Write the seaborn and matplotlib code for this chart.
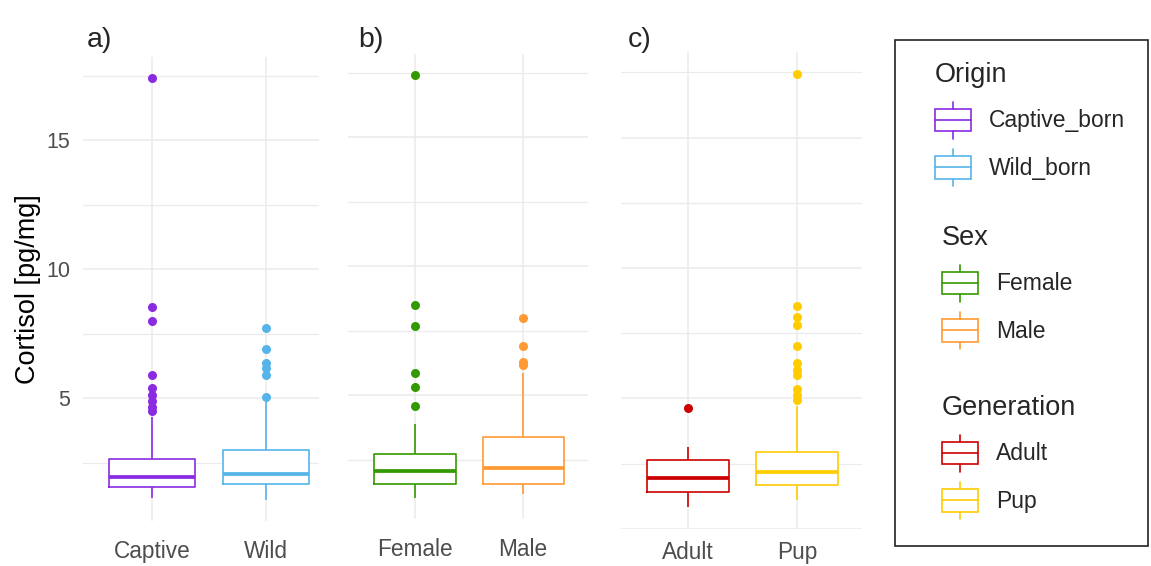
import pandas as pd
import seaborn as sns
import matplotlib.pyplot as plt
from matplotlib.lines import Line2D
from matplotlib.patches import Rectangle
from matplotlib.legend_handler import HandlerBase
from matplotlib.ticker import MultipleLocator

# values (box summaries + outlying points)
origin = ["Captive", "Wild"]
origin_names = ["Captive_born", "Wild_born"]
origin_colors = ["#8A2BE2", "#56B4E9"]
origin_low = [1.14, 1.05]
origin_q1 = [1.54, 1.65]
origin_median = [1.93, 2.05]
origin_q3 = [2.64, 2.98]
origin_high = [4.26, 4.90]
origin_out = [[4.50, 4.65, 4.90, 5.10, 5.39, 5.89, 7.98, 8.53, 17.40],
              [5.02, 5.89, 6.16, 6.36, 6.90, 7.70]]

sex = ["Female", "Male"]
sex_colors = ["#339900", "#FF9933"]
sex_low = [1.03, 1.18]
sex_q1 = [1.57, 1.57]
sex_median = [2.08, 2.19]
sex_q3 = [2.73, 3.39]
sex_high = [3.90, 5.87]
sex_out = [[4.60, 5.33, 5.87, 7.70, 8.48, 17.40],
           [6.18, 6.30, 6.90, 8.00]]

generation = ["Adult", "Pup"]
generation_colors = ["#CC0000", "#FFCC00"]
generation_low = [0.82, 1.09]
generation_q1 = [1.42, 1.66]
generation_median = [1.96, 2.19]
generation_q3 = [2.64, 2.94]
generation_high = [3.13, 4.72]
generation_out = [[4.63],
                  [4.95, 5.12, 5.36, 5.90, 6.10, 6.34, 6.99, 7.81, 8.10, 8.53, 17.45]]


def panel_frame(groups, low, q1, median, q3, high, outliers, reps=20):
    # raw values that reproduce the summaries for sns.boxplot
    rows = []
    for g, lo, a, m, b, hi, out in zip(groups, low, q1, median, q3, high, outliers):
        vals = [lo] + [a] * reps + [m] * reps + [b] * reps + [hi] + list(out)
        rows += [(g, v) for v in vals]
    return pd.DataFrame(rows, columns=["group", "cortisol"])


class BoxGlyph(HandlerBase):
    def create_artists(self, legend, orig_handle, xdescent, ydescent,
                       width, height, fontsize, trans):
        c = orig_handle.get_color()
        x0, y0 = -xdescent, -ydescent
        xm = x0 + width / 2
        box = Rectangle((x0, y0 + 0.2 * height), width, 0.6 * height, fill=False,
                        edgecolor=c, lw=1.2, transform=trans)
        mid = Line2D([x0, x0 + width], [y0 + 0.5 * height] * 2, color=c, lw=1.2, transform=trans)
        top = Line2D([xm, xm], [y0 + 0.8 * height, y0 + height], color=c, lw=1.2, transform=trans)
        bot = Line2D([xm, xm], [y0, y0 + 0.2 * height], color=c, lw=1.2, transform=trans)
        return [box, mid, top, bot]


sns.set_style("white")
plt.rcParams["font.family"] = ["Liberation Sans", "DejaVu Sans"]

W, H = 1151, 566
fig = plt.figure(figsize=(W / 100, H / 100), dpi=100)


def px_axes(left, right, top, bottom):
    return fig.add_axes([left / W, 1 - bottom / H, (right - left) / W, (bottom - top) / H])


def draw_panel(ax, df, groups, colors, xlim, pad):
    ax.set_axisbelow(True)
    sns.boxplot(data=df, x="group", y="cortisol", order=groups, color="white",
                fill=True, width=0.75, linewidth=0, showfliers=False, showcaps=False, ax=ax)
    sns.boxplot(data=df, x="group", y="cortisol", order=groups, hue="group",
                hue_order=groups, palette=colors, saturation=1, fill=False,
                width=0.75, linewidth=1.2, fliersize=6.5, legend=False, showcaps=False,
                medianprops={"linewidth": 2.7},
                flierprops={"marker": "o", "markeredgewidth": 0}, ax=ax)
    for line in ax.lines:
        if line.get_marker() == "o":
            line.set_markerfacecolor(line.get_markeredgecolor())
    lo, hi = df["cortisol"].min(), df["cortisol"].max()
    ax.set_ylim(lo - 0.05 * (hi - lo), hi + 0.05 * (hi - lo))
    ax.set_xlim(*xlim)
    ax.yaxis.set_major_locator(MultipleLocator(5))
    ax.yaxis.set_minor_locator(MultipleLocator(2.5))
    ax.grid(which="major", color="#EBEBEB", linewidth=1.1)
    ax.grid(which="minor", axis="y", color="#EBEBEB", linewidth=0.9)
    ax.tick_params(which="both", length=0, labelsize=16.3, labelcolor="#4D4D4D")
    ax.tick_params(axis="x", pad=pad)
    ax.tick_params(axis="y", pad=9, labelsize=15.5)
    for s in ax.spines.values():
        s.set_visible(False)
    ax.set_xlabel("")
    ax.set_ylabel("")


df_a = panel_frame(origin, origin_low, origin_q1, origin_median, origin_q3, origin_high, origin_out)
df_b = panel_frame(sex, sex_low, sex_q1, sex_median, sex_q3, sex_high, sex_out)
df_c = panel_frame(generation, generation_low, generation_q1, generation_median,
                   generation_q3, generation_high, generation_out)

ax_a = px_axes(83, 319, 57, 521)
draw_panel(ax_a, df_a, origin, origin_colors, (-0.605, 1.465), 14)
ax_a.set_ylabel("Cortisol [pg/mg]", fontsize=19.5, color="black")
ax_a.yaxis.set_label_coords(-0.18, 0.5)

ax_b = px_axes(348, 588, 54, 519)
draw_panel(ax_b, df_b, sex, sex_colors, (-0.62, 1.60), 13.5)
ax_b.tick_params(axis="y", labelleft=False)

ax_c = px_axes(621, 862, 52, 529)
draw_panel(ax_c, df_c, generation, generation_colors, (-0.615, 1.596), 8.5)
ax_c.tick_params(axis="y", labelleft=False)

for x, lab in [(87, "a)"), (358, "b)"), (628, "c)")]:
    fig.text(x / W, 1 - 47 / H, lab, fontsize=20.5, ha="left", va="baseline")

# legend block
fig.add_artist(Rectangle((895 / W, 1 - 546 / H), 253 / W, 506 / H, transform=fig.transFigure,
                         fill=False, edgecolor="#222222", linewidth=1.2))

legend_specs = [("Origin", origin_names, origin_colors, 935, 62),
                ("Sex", sex, sex_colors, 942, 225),
                ("Generation", generation, generation_colors, 942, 395)]
for title, names, colors, x, y in legend_specs:
    handles = [Line2D([], [], color=c) for c in colors]
    leg = fig.legend(handles, names, title=title, loc="upper left",
                     bbox_to_anchor=(x / W, 1 - y / H), frameon=False, fontsize=16.5,
                     title_fontsize=19.5, alignment="left", borderpad=0, borderaxespad=0,
                     handlelength=1.55, handleheight=2.1, labelspacing=0.45, handletextpad=0.8,
                     handler_map={Line2D: BoxGlyph()})
    leg._legend_box.sep += 2.5  # a little more room under the title

fig.savefig("out.png", dpi=100)
